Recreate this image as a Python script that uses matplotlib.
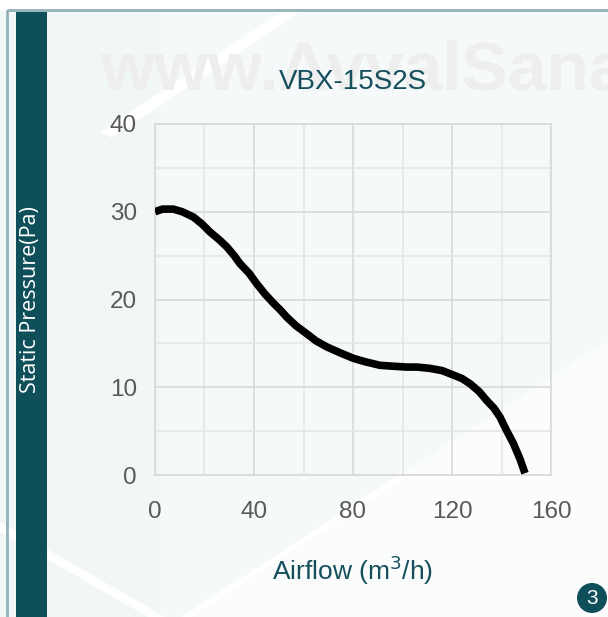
import matplotlib
matplotlib.use('Agg')
from matplotlib import pyplot as plt
from matplotlib.patches import Rectangle, Polygon, Circle
from matplotlib.ticker import MultipleLocator

# Data
airflow = [0, 3, 7.4, 11, 15.5, 19, 22.2, 26, 29, 32, 34.3, 38, 41.1, 44.5, 47.8, 51, 53.2, 57,
           61.3, 65, 69.4, 75, 80.1, 85, 90.9, 96, 101.7, 106, 111.1, 116, 120.5, 124, 127.3,
           131, 134, 137, 139.4, 142, 144.8, 147.5, 149.5]
pressure = [30.0, 30.3, 30.3, 30.0, 29.4, 28.6, 27.7, 26.8, 26.0, 25.0, 24.1, 23.0, 21.8, 20.6,
            19.6, 18.7, 18.0, 17.0, 16.1, 15.3, 14.6, 13.9, 13.3, 12.9, 12.5, 12.4, 12.3, 12.3,
            12.15, 11.9, 11.4, 11.0, 10.4, 9.5, 8.5, 7.6, 6.6, 5.1, 3.6, 1.8, 0.2]

xTicks = [0, 40, 80, 120, 160]
yTicks = [0, 10, 20, 30, 40]

TEAL = '#0f4f5a'
TEXT_TEAL = '#154f5c'
TICK_GRAY = '#595959'

fig = plt.figure(figsize = [6.08, 6.17], dpi = 100)
fig.patch.set_facecolor('#f1f6f6')

# Background decoration in pixel coords on a full-figure axes
bg = fig.add_axes([0, 0, 1, 1], zorder = -1)
bg.set_xlim(0, 608)
bg.set_ylim(617, 0)
bg.axis('off')
bg.add_patch(Polygon([(160, 0), (608, 0), (608, 617), (160, 617)], facecolor = '#f6f9f9', edgecolor = 'none'))
bg.add_patch(Polygon([(400, 475), (608, 340), (608, 617), (180, 617)], facecolor = '#fbfdfd', edgecolor = 'none'))
for pts in [[(100, 132), (300, 0), (318, 0), (112, 138)],
            [(0, 522), (165, 617), (148, 617), (0, 532)],
            [(182, 617), (400, 474), (412, 474), (190, 617)]]:
    bg.add_patch(Polygon(pts, facecolor = '#ffffff', edgecolor = 'none'))
bg.add_patch(Rectangle((0, 0), 608, 10, facecolor = '#ffffff', edgecolor = 'none'))
bg.add_patch(Rectangle((7, 10), 640, 640, facecolor = 'none', edgecolor = '#93b1b8', linewidth = 2))
bg.add_patch(Rectangle((16, 12), 31, 620, facecolor = TEAL, edgecolor = 'none'))

# Watermark
bg.text(100, 72, 'www.AvvalSanat', fontsize = 50, fontweight = 'bold', color = '#eeeeee',
        family = 'Liberation Sans', va = 'center', ha = 'left', clip_on = True)

bg.text(31, 300, 'Static Pressure(Pa)', rotation = 90, color = 'white', fontsize = 15.5,
        family = 'Open Sans', ha = 'center', va = 'center')

# Page number badge
bg.add_patch(Circle((592, 598), 15, facecolor = TEAL, edgecolor = 'none'))
bg.text(592, 599, '3', color = 'white', fontsize = 15, family = 'Liberation Sans', ha = 'center', va = 'center')

ax = fig.add_axes([155 / 608, 1 - 475 / 617, 396 / 608, 351 / 617], zorder = 1)
ax.set_facecolor('none')
ax.plot(airflow, pressure, color = 'black', linewidth = 5.5, solid_capstyle = 'butt', zorder = 3)

ax.set_xlim(0, 160)
ax.set_ylim(0, 40)
ax.set_xticks(xTicks)
ax.set_yticks(yTicks)
ax.xaxis.set_minor_locator(MultipleLocator(20))
ax.yaxis.set_minor_locator(MultipleLocator(5))
ax.grid(True, which = 'major', color = '#d9d9d9', linewidth = 1.2)
ax.grid(True, which = 'minor', color = '#e6e6e6', linewidth = 1.2)
ax.set_axisbelow(True)
for spine in ax.spines.values():
    spine.set_color('#d9d9d9')
    spine.set_linewidth(1.2)
ax.tick_params(which = 'both', length = 0)
ax.tick_params(axis = 'x', pad = 19, labelsize = 17.5, labelcolor = TICK_GRAY)
ax.tick_params(axis = 'y', pad = 13, labelsize = 17.5, labelcolor = TICK_GRAY)
for lab in ax.get_xticklabels() + ax.get_yticklabels():
    lab.set_family('Liberation Sans')

ax.set_title('VBX-15S2S', fontsize = 20, color = TEXT_TEAL, family = 'Liberation Sans', pad = 25)
ax.set_xlabel('Airflow (m$^3$/h)', fontsize = 19, color = TEXT_TEAL, family = 'Liberation Sans', labelpad = 22)

plt.savefig('out.png', dpi = 100, facecolor = fig.get_facecolor())
